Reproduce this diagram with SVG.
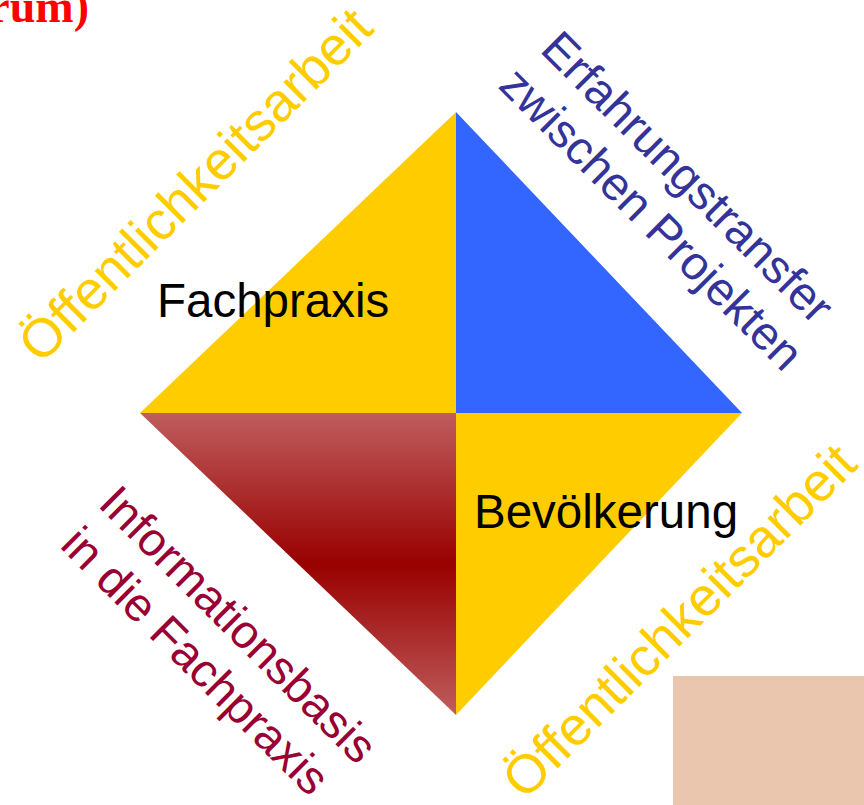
<svg xmlns="http://www.w3.org/2000/svg" width="864" height="805" viewBox="0 0 864 805">
  <defs>
    <linearGradient id="redGrad" x1="0" y1="0" x2="0" y2="1">
      <stop offset="0" stop-color="#BF5D5D"/>
      <stop offset="0.5" stop-color="#990000"/>
      <stop offset="1" stop-color="#BF5D5D"/>
    </linearGradient>
    <style>
      .sans { font-family: "Liberation Sans", Arial, sans-serif; }
      .label { font-size: 47.5px; fill: #000000; }
      .oeff { font-size: 54px; fill: #FFCC00; }
      .blue { font-size: 47px; fill: #333399; }
      .red { font-size: 47px; fill: #990033; }
      .title { font-family: "Liberation Serif", "Times New Roman", serif; font-weight: bold; font-size: 46px; fill: #FF0000; }
    </style>
  </defs>
  <rect width="864" height="805" fill="#FFFFFF"/>

  <text class="title" x="89" y="22" text-anchor="end">rum)</text>

  <g id="fachpraxis">
    <polygon points="140,413 456,112 456,413" fill="#FFCC00"/>
    <text class="sans label" x="157" y="317">Fachpraxis</text>
  </g>

  <g id="erfahrungstransfer">
    <polygon points="456,112 742,413 456,413" fill="#3366FF"/>
    <g transform="rotate(45)">
      <text class="sans blue" x="417" y="-345">Erfahrungstransfer</text>
      <text class="sans blue" x="413" y="-290">zwischen Projekten</text>
    </g>
  </g>

  <g id="bevoelkerung">
    <polygon points="456,413 742,413 456,715" fill="#FFCC00"/>
    <text class="sans label" x="474" y="528">Bevölkerung</text>
  </g>

  <g id="informationsbasis">
    <polygon points="140,413 456,413 456,715" fill="url(#redGrad)"/>
    <g transform="rotate(45)">
      <text class="sans red" x="426" y="289">Informationsbasis</text>
      <text class="sans red" x="428" y="345">in die Fachpraxis</text>
    </g>
  </g>

  <g id="oeffentlichkeit-oben">
    <text class="sans oeff" text-anchor="middle" transform="translate(208,198) rotate(-45)">Öffentlichkeitsarbeit</text>
  </g>

  <g id="oeffentlichkeit-unten">
    <text class="sans oeff" text-anchor="middle" transform="translate(692,634) rotate(-45)">Öffentlichkeitsarbeit</text>
  </g>

  <rect id="panel" x="673" y="676" width="191" height="129" fill="#EBC6AE"/>
</svg>
